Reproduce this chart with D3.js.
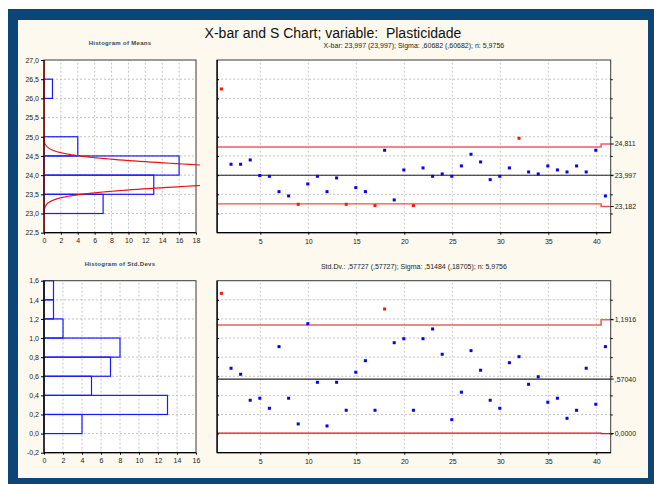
<!DOCTYPE html>
<html>
<head>
<meta charset="utf-8">
<script src="https://cdn.jsdelivr.net/npm/d3@7"></script>
<style>
  body { margin: 0; background: #fff; }
  text { font-family: "Liberation Sans", Arial, sans-serif; white-space: pre; }
</style>
</head>
<body>
<svg id="chart" width="654" height="484"></svg>
<script>
// sample means and std devs (samples 1..41)
var samples = d3.range(1, 42);
var means = [26.245, 24.284, 24.284, 24.396, 23.99, 23.97, 23.57, 23.458, 23.24, 23.77,
             23.97, 23.57, 23.927, 23.24, 23.675, 23.57, 23.206, 24.648, 23.354, 24.135,
             23.206, 24.188, 23.97, 24.031, 23.97, 24.24, 24.544, 24.344, 23.883, 23.97,
             24.188, 24.96, 24.083, 24.031, 24.24, 24.135, 24.083, 24.24, 24.083, 24.648,
             23.458];
var stdDevs = [1.468, 0.684, 0.621, 0.349, 0.370, 0.265, 0.910, 0.370, 0.101, 1.150,
               0.537, 0.080, 0.537, 0.244, 0.642, 0.763, 0.244, 1.304, 0.951, 0.993,
               0.244, 0.993, 1.095, 0.830, 0.146, 0.433, 0.868, 0.663, 0.349, 0.265,
               0.742, 0.805, 0.516, 0.595, 0.328, 0.370, 0.160, 0.244, 0.684, 0.307,
               0.910];
// samples flagged red
var meanOut = [1, 9, 14, 17, 21, 32];
var sdOut = [1, 18];

// control limits: value for samples 1-40, then sample 41
var xbarCL = 23.997, xbarUCL = [24.734, 24.811], xbarLCL = [23.25, 23.182];
var sdCL = 0.5704, sdUCL = [1.137, 1.1916], sdLCL = [0.005, 0];
var xbarLimitLabels = ["24,811", "23,997", "23,182"];
var sdLimitLabels = ["1,1916", ",57040", "0,0000"];

// histograms: lower bin edge and count
var meanBinStart = [23.0, 23.5, 24.0, 24.5, 26.0];
var meanCounts = [7, 13, 16, 4, 1];
var sdBinStart = [0.0, 0.2, 0.4, 0.6, 0.8, 1.0, 1.2, 1.4];
var sdCounts = [4, 13, 5, 7, 8, 2, 1, 1];

// fitted normal for histogram of means
var fitMean = 23.997, fitSigma = 0.60682, fitN = 5.9756, nSamples = 41;

var title = "X-bar and S Chart; variable:  Plasticidade";
var xbarSub = "X-bar: 23,997 (23,997); Sigma: ,60682 (,60682); n: 5,9756";
var sdSub = "Std.Dv.: ,57727 (,57727); Sigma: ,51484 (,18705); n: 5,9756";

var svg = d3.select("#chart");
var loc = d3.formatLocale({decimal: ",", thousands: ".", grouping: [3], currency: ["", ""], minus: "-"});
var fmt1 = loc.format(".1f");

// frame
svg.append("rect").attr("x", 8).attr("y", 9).attr("width", 646).attr("height", 475).attr("fill", "#0b4677");
svg.append("rect").attr("x", 18).attr("y", 20).attr("width", 630).attr("height", 458).attr("fill", "#fdf9ee");

svg.append("text").attr("x", 333).attr("y", 38).attr("text-anchor", "middle")
    .attr("font-size", 14).attr("fill", "#111").text(title);

var hx = [44, 196], cx = [217.1, 610.7];
var topY = [232.7, 60], botY = [452.7, 280.7];

var xChart = d3.scaleLinear().domain([0.5, 41.5]).range(cx);

function box(g, xr, yr) {
  g.append("rect").attr("x", xr[0]).attr("y", yr[1]).attr("width", xr[1] - xr[0]).attr("height", yr[0] - yr[1])
      .attr("fill", "#fff");
}
function frame(g, xr, yr, leftColor) {
  g.append("rect").attr("x", xr[0]).attr("y", yr[1]).attr("width", xr[1] - xr[0]).attr("height", yr[0] - yr[1])
      .attr("fill", "none").attr("stroke", "#3a3a3a").attr("stroke-width", 1);
  g.append("line").attr("x1", xr[0]).attr("x2", xr[1]).attr("y1", yr[0]).attr("y2", yr[0])
      .attr("stroke", "#000").attr("stroke-width", 1.3);
  g.append("line").attr("x1", xr[0]).attr("x2", xr[0]).attr("y1", yr[0]).attr("y2", yr[1])
      .attr("stroke", leftColor || "#000").attr("stroke-width", 1.3);
}
function grid(g, x, y, xt, yt) {
  var xr = x.range(), yr = y.range();
  g.selectAll(".gx").data(xt).enter().append("line")
      .attr("x1", x).attr("x2", x).attr("y1", yr[0]).attr("y2", yr[1])
      .attr("stroke", "#b4b4b4").attr("stroke-dasharray", "2,2").attr("stroke-width", 0.8);
  g.selectAll(".gy").data(yt).enter().append("line")
      .attr("x1", xr[0]).attr("x2", xr[1]).attr("y1", y).attr("y2", y)
      .attr("stroke", "#b4b4b4").attr("stroke-dasharray", "2,2").attr("stroke-width", 0.8);
}
function styleAxis(a) {
  a.select(".domain").remove();
  a.selectAll("text").attr("font-size", 7).attr("fill", "#222");
  a.selectAll("line").attr("stroke", "#000");
}

function histogram(yr, xMax, yDomain, yStep, starts, counts, binW, label, curve) {
  var g = svg.append("g");
  var x = d3.scaleLinear().domain([0, xMax]).range(hx);
  var y = d3.scaleLinear().domain(yDomain).range(yr);
  var xt = d3.range(0, xMax + 1, 2);
  var yt = d3.range(0, Math.round((yDomain[1] - yDomain[0]) / yStep) + 1).map(function (i) { return yDomain[0] + i * yStep; });
  box(g, hx, yr);
  grid(g, x, y, xt.slice(1, -1), yt.slice(1, -1));
  g.selectAll(".bar").data(counts).enter().append("rect")
      .attr("x", x(0))
      .attr("y", function (d, i) { return y(starts[i] + binW); })
      .attr("width", function (d) { return x(d) - x(0); })
      .attr("height", function (d, i) { return y(starts[i]) - y(starts[i] + binW); })
      .attr("fill", "none").attr("stroke", "#1a1aff").attr("stroke-width", 1.2);
  if (curve) {
    var sm = fitSigma / Math.sqrt(fitN);
    var k = nSamples * binW / (sm * Math.sqrt(2 * Math.PI));
    var ys = d3.range(yDomain[0], yDomain[1] + 0.001, 0.01);
    var clipId = "clip" + yr[1];
    svg.append("clipPath").attr("id", clipId).append("rect")
        .attr("x", hx[0]).attr("y", yr[1]).attr("width", 200 - hx[0]).attr("height", yr[0] - yr[1]);
    g.append("path").datum(ys).attr("clip-path", "url(#" + clipId + ")")
        .attr("d", d3.line()
          .x(function (v) { var z = (v - fitMean) / sm; return x(k * Math.exp(-0.5 * z * z)); })
          .y(function (v) { return y(v); }))
        .attr("fill", "none").attr("stroke", "#f01010").attr("stroke-width", 1.2);
  }
  frame(g, hx, yr, curve ? "#6a0000" : "#000");
  styleAxis(g.append("g").attr("transform", "translate(" + hx[0] + ",0)")
      .call(d3.axisLeft(y).tickValues(yt).tickSize(3).tickPadding(2).tickFormat(fmt1)));
  styleAxis(g.append("g").attr("transform", "translate(0," + yr[0] + ")")
      .call(d3.axisBottom(x).tickValues(xt).tickSize(2).tickPadding(3).tickFormat(d3.format("d"))));
  svg.append("text").attr("x", (hx[0] + hx[1]) / 2).attr("y", yr[1] - 15).attr("text-anchor", "middle")
      .attr("font-size", 6).attr("font-weight", "bold").attr("fill", "#444").attr("letter-spacing", 0.3)
      .text(label);
}

function controlChart(yr, yDomain, yStep, values, outList, cl, ucl, lcl, limitLabels, sub, lclColor) {
  var g = svg.append("g");
  var y = d3.scaleLinear().domain(yDomain).range(yr);
  var yt = d3.range(0, Math.round((yDomain[1] - yDomain[0]) / yStep) + 1).map(function (i) { return yDomain[0] + i * yStep; });
  var xt = d3.range(5, 41, 5);
  box(g, cx, yr);
  grid(g, xChart, y, xt, yt.slice(1, -1));
  g.append("line").attr("x1", cx[0]).attr("x2", cx[1]).attr("y1", y(cl)).attr("y2", y(cl))
      .attr("stroke", "#222").attr("stroke-width", 1.2);
  var step = d3.line().curve(d3.curveStepAfter)
      .x(function (d) { return xChart(d[0]); }).y(function (d) { return y(d[1]); });
  g.append("path").attr("d", step([[0.5, ucl[0]], [40.5, ucl[1]], [41.5, ucl[1]]]))
      .attr("fill", "none").attr("stroke", "#f06060").attr("stroke-width", 1.6);
  g.append("path").attr("d", step([[0.5, lcl[0]], [40.5, lcl[1]], [41.5, lcl[1]]]))
      .attr("fill", "none").attr("stroke", lclColor).attr("stroke-width", 1.4);
  g.selectAll(".pt").data(values).enter().append("rect")
      .attr("x", function (d, i) { return xChart(samples[i]) - 2; })
      .attr("y", function (d) { return y(d) - 1.5; })
      .attr("width", 3).attr("height", 3)
      .attr("fill", function (d, i) { return outList.indexOf(samples[i]) >= 0 ? "#ff1010" : "#0000ff"; });
  frame(g, cx, yr);
  styleAxis(g.append("g").attr("transform", "translate(" + cx[0] + ",0)")
      .call(d3.axisRight(y).tickValues(yt.slice(1, -1)).tickSize(2).tickFormat("")));
  styleAxis(g.append("g").attr("transform", "translate(" + cx[1] + ",0)")
      .call(d3.axisRight(y).tickValues(yt.slice(1, -1)).tickSize(2).tickFormat("")));
  styleAxis(g.append("g").attr("transform", "translate(0," + yr[0] + ")")
      .call(d3.axisBottom(xChart).tickValues(xt).tickSize(2).tickPadding(4).tickFormat(d3.format("d"))));
  var limVals = [ucl[1], cl, lcl[1]];
  limVals.forEach(function (v, i) {
    g.append("line").attr("x1", cx[1]).attr("x2", cx[1] + 3).attr("y1", y(v)).attr("y2", y(v)).attr("stroke", "#000");
    g.append("text").attr("x", cx[1] + 4).attr("y", y(v)).attr("dy", "0.35em")
        .attr("font-size", 7).attr("fill", "#222").text(limitLabels[i]);
  });
  svg.append("text").attr("x", (cx[0] + cx[1]) / 2).attr("y", yr[1] - 12).attr("text-anchor", "middle")
      .attr("font-size", 7).attr("fill", "#222").text(sub);
}

histogram(topY, 18, [22.5, 27.0], 0.5, meanBinStart, meanCounts, 0.5, "Histogram of Means", true);
histogram(botY, 16, [-0.2, 1.6], 0.2, sdBinStart, sdCounts, 0.2, "Histogram of Std.Devs", false);
controlChart(topY, [22.5, 27.0], 0.5, means, meanOut, xbarCL, xbarUCL, xbarLCL, xbarLimitLabels, xbarSub, "#f05050");
controlChart(botY, [-0.2, 1.6], 0.2, stdDevs, sdOut, sdCL, sdUCL, sdLCL, sdLimitLabels, sdSub, "#ee1111");
</script>
</body>
</html>
